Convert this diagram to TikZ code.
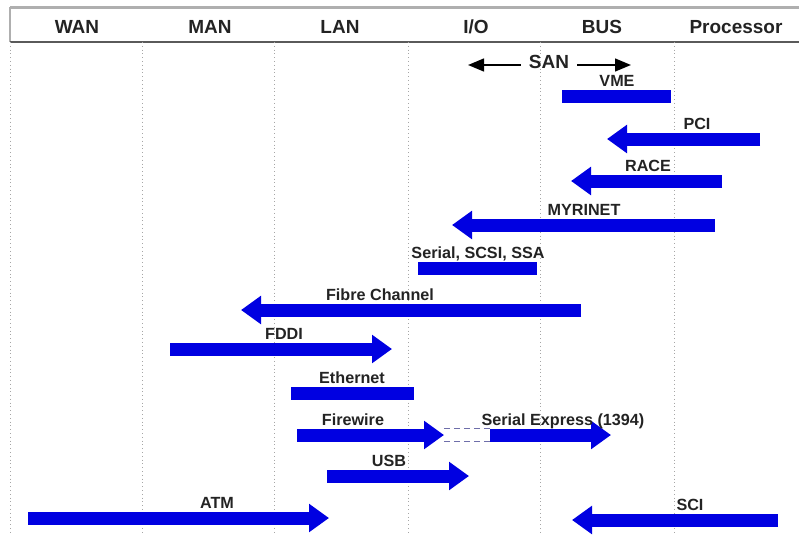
\documentclass[tikz,border=0pt]{standalone}
\usepackage{fontspec}
\setmainfont{Liberation Sans}
\definecolor{netblue}{RGB}{0,0,225}
\definecolor{labelgray}{RGB}{35,35,35}
\definecolor{framegray}{RGB}{175,175,175}
\definecolor{rulegray}{RGB}{90,90,90}
\definecolor{dashgray}{RGB}{110,110,170}
\usetikzlibrary{arrows.meta}

\begin{document}
\begin{tikzpicture}[x=0.025cm, y=-0.025cm,
  colhead/.style={anchor=base, text=labelgray, inner sep=0pt, font=\fontsize{13.5}{16}\selectfont\bfseries},
  linklabel/.style={anchor=base, text=labelgray, inner sep=0pt, font=\fontsize{11.5}{13}\selectfont\bfseries},
  linkbar/.style={draw=netblue, line width=0.325cm},
  linkarrow/.style={linkbar, -{Triangle[length=0.5cm, width=0.68cm]}},
  sanarrow/.style={draw=black, line width=0.05cm, -{Triangle[length=0.4cm, width=0.32cm]}},
  dashlink/.style={draw=dashgray, line width=0.6pt, dash pattern=on 0.15cm off 0.1cm},
  sepline/.style={draw=gray!70, dotted, line width=0.7pt}]
  \useasboundingbox (0,0) rectangle (799,534);
  % frame, header and column separators
  \draw[framegray, line width=0.075cm] (10,7) -- (799,7);
  \draw[framegray, line width=0.04cm] (10,7) -- (10,42);
  \draw[rulegray, line width=0.04cm] (10,42) -- (799,42);
  \foreach \x in {10,142,274,408,540,674}
    \draw[sepline] (\x,42) -- (\x,534);
  \foreach \x/\name [count=\k] in {77/WAN,210/MAN,340/LAN,476/{I/O},602/BUS,736/Processor}
    \node[colhead] (head\k) at (\x,33) {\name};

  % SAN span
  \node[colhead, inner xsep=0.2cm] (san) at (549,68) {SAN};
  \coordinate (sanL) at (468,65);
  \coordinate (sanR) at (631,65);
  \draw[sanarrow] (san.west |- sanL) -- (sanL);
  \draw[sanarrow] (san.east |- sanR) -- (sanR);

  % links: id / y / from / to / kind / label x / label
  \foreach \id/\y/\xa/\xb/\kind/\lx/\txt in {%
    vme/96/562/671/linkbar/617/VME,%
    pci/139/760/607/linkarrow/697/PCI,%
    race/181/722/571/linkarrow/648/RACE,%
    myri/225/715/452/linkarrow/584/MYRINET,%
    scsi/268/418/537/linkbar/478/{Serial, SCSI, SSA},%
    fc/310/581/241/linkarrow/380/Fibre Channel,%
    fddi/349/170/392/linkarrow/284/FDDI,%
    eth/393/291/414/linkbar/352/Ethernet,%
    fw/435/297/444/linkarrow/353/Firewire,%
    sx/435/490/611/linkarrow/563/{Serial Express (1394)},%
    usb/476/327/469/linkarrow/389/USB,%
    atm/518/28/329/linkarrow/217/ATM,%
    sci/520/778/572/linkarrow/690/SCI%
  }{
    \coordinate (\id-a) at (\xa,\y);
    \coordinate (\id-b) at (\xb,\y);
    \draw[\kind] (\id-a) -- (\id-b);
    \node[linklabel] (\id-lbl) at (\lx,{\y-10}) {\txt};
  }

  % Firewire continues as Serial Express
  \draw[dashlink] ([yshift=0.175cm]fw-b) -- ([yshift=0.175cm]sx-a);
  \draw[dashlink] ([yshift=-0.15cm]fw-b) -- ([yshift=-0.15cm]sx-a);
\end{tikzpicture}
\end{document}
